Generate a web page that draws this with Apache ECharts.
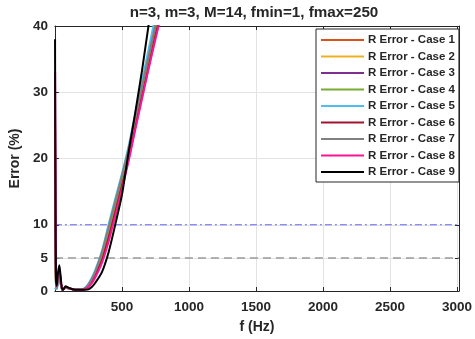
<!DOCTYPE html>
<html>
<head>
<meta charset="utf-8">
<script src="https://cdn.jsdelivr.net/npm/echarts@6/dist/echarts.min.js"></script>
<style>
  html, body { margin: 0; padding: 0; background: #fff; }
  #chart { width: 475px; height: 339px; }
</style>
</head>
<body>
<div id="chart"></div>
<script>
// Frequency samples (Hz)
const freq = [1, 4, 8, 14, 22, 33, 44, 55, 66, 80, 100, 125, 150, 175,
              200, 225, 250, 275, 300, 350, 400, 450, 500, 550, 600, 650, 700, 750, 800, 850];

// Resistance error (%) for each case
const case1 = [24, 8, 1.2, 0.5, 1.8, 2.7, 1.2, 0.2, 0.3, 0.6, 0.4, 0.3, 0.2, 0.2,
               0.2, 0.4, 0.9, 1.6, 2.6, 5.1, 8.7, 12.6, 16.5, 20.6, 25.1, 29.7, 34.1, 38.5, 42.9, 47.3];
const case2 = [22, 7, 1.1, 0.5, 1.7, 2.6, 1.1, 0.2, 0.3, 0.6, 0.4, 0.3, 0.2, 0.2,
               0.2, 0.4, 0.9, 1.6, 2.7, 5.2, 8.8, 12.7, 16.6, 20.7, 25.2, 29.8, 34.2, 38.7, 43.1, 47.5];
const case3 = [26, 9, 1.3, 0.5, 2.0, 2.9, 1.3, 0.2, 0.3, 0.6, 0.4, 0.3, 0.2, 0.2,
               0.2, 0.4, 0.9, 1.7, 2.8, 5.4, 9.2, 13.1, 17.0, 21.1, 25.8, 30.5, 35.2, 39.9, 44.5, 49.0];
const case4 = [21, 7, 1.0, 0.4, 1.6, 2.5, 1.1, 0.2, 0.3, 0.5, 0.4, 0.3, 0.2, 0.2,
               0.2, 0.4, 0.9, 1.6, 2.7, 5.2, 8.9, 12.8, 16.7, 20.8, 25.4, 30.0, 34.4, 38.8, 43.2, 47.6];
const case5 = [0.5, 0.4, 0.3, 0.3, 1.2, 2.0, 0.9, 0.2, 0.3, 0.5, 0.4, 0.3, 0.2, 0.2,
               0.2, 0.5, 1.1, 2.0, 3.1, 6.0, 10.0, 13.9, 17.7, 21.9, 26.8, 31.7, 36.6, 41.5, 46.5, 51.5];
const case6 = [33, 11, 1.6, 0.6, 2.1, 3.1, 1.4, 0.2, 0.3, 0.6, 0.4, 0.3, 0.2, 0.2,
               0.2, 0.3, 0.7, 1.4, 2.3, 4.6, 8.0, 11.9, 15.9, 20.0, 24.7, 29.4, 33.9, 38.5, 42.6, 46.8];
const case7 = [18, 6, 0.9, 0.4, 1.5, 2.3, 1.0, 0.2, 0.3, 0.5, 0.4, 0.3, 0.2, 0.2,
               0.2, 0.4, 1.0, 1.8, 2.9, 5.8, 9.6, 13.5, 17.4, 21.5, 26.2, 30.9, 35.6, 40.2, 44.8, 49.5];
const case8 = [33, 12, 1.8, 0.7, 2.3, 3.4, 1.6, 0.2, 0.3, 0.6, 0.5, 0.3, 0.2, 0.2,
               0.2, 0.3, 0.6, 1.2, 2.0, 4.2, 7.4, 11.3, 15.4, 19.6, 24.4, 29.0, 33.6, 38.0, 42.2, 46.4];
const case9 = [38, 14, 2.0, 0.8, 2.6, 3.9, 1.9, 0.2, 0.3, 0.7, 0.5, 0.3, 0.2, 0.2,
               0.2, 0.2, 0.25, 0.6, 1.2, 2.8, 5.8, 10.0, 14.5, 21.0, 27.0, 33.3, 40.3, 47, 53, 59];

const caseNames = ['R Error - Case 1', 'R Error - Case 2', 'R Error - Case 3',
                   'R Error - Case 4', 'R Error - Case 5', 'R Error - Case 6',
                   'R Error - Case 7', 'R Error - Case 8', 'R Error - Case 9'];
const caseColors = ['#D95319', '#EDB120', '#7E2F8E', '#77AC30', '#4DBEEE',
                    '#A2142F', '#808080', '#FF1493', '#000000'];

// Axis ranges and ticks
const xRange = [0, 3015];
const yRange = [0, 40];
const xTicks = [500, 1000, 1500, 2000, 2500, 3000];
const yTicks = [0, 5, 10, 20, 30, 40];

// Threshold lines (%)
const limitHigh = 10;
const limitLow = 5;

const titleText = 'n=3, m=3, M=14, fmin=1, fmax=250';

const ink = '#262626';
const font = 'Liberation Sans, Arial, Helvetica, sans-serif';

const allCases = [case1, case2, case3, case4, case5, case6, case7, case8, case9];

const chart = echarts.init(document.getElementById('chart'), null, { renderer: 'canvas' });

const lineSeries = allCases.map((vals, i) => ({
  name: caseNames[i],
  type: 'line',
  data: freq.map((f, k) => [f, vals[k]]),
  showSymbol: false,
  symbol: 'none',
  smooth: 0.25,
  clip: true,
  z: 3,
  lineStyle: { color: caseColors[i], width: 2 },
  itemStyle: { color: caseColors[i] },
  emphasis: { disabled: true },
  animation: false
}));

// Horizontal threshold line spanning the full x range, drawn beneath the curves
function thresholdSeries(name, level, color, width, dash) {
  return {
    name: name,
    type: 'line',
    data: xRange.map(f => [f, level]),
    showSymbol: false,
    symbol: 'none',
    silent: true,
    z: 2,
    animation: false,
    lineStyle: { color: color, width: width, type: dash },
    itemStyle: { color: color },
    emphasis: { disabled: true }
  };
}

const guides = [
  thresholdSeries('limit-high', limitHigh, '#6666f0', 1.2, [7, 3, 2, 3]),
  thresholdSeries('limit-low', limitLow, '#9a9a9a', 1.5, [8, 5])
];

const axisText = {
  color: ink, fontFamily: font, fontWeight: 'bold', fontSize: 13.5,
  formatter: v => String(v)
};

const option = {
  animation: false,
  backgroundColor: '#ffffff',
  title: {
    text: titleText,
    left: 254,
    top: 5,
    textAlign: 'center',
    padding: 0,
    textStyle: { color: ink, fontFamily: font, fontWeight: 'bold', fontSize: 15.2 }
  },
  legend: {
    data: caseNames,
    orient: 'vertical',
    left: 316,
    top: 29,
    padding: [4, 4, 3, 5],
    itemGap: 2.5,
    itemWidth: 43,
    itemHeight: 2,
    backgroundColor: '#ffffff',
    borderColor: ink,
    borderWidth: 1,
    borderRadius: 0,
    selectedMode: false,
    icon: 'rect',
    itemStyle: { borderWidth: 0 },
    textStyle: { color: ink, fontFamily: font, fontWeight: 'bold', fontSize: 11.5, lineHeight: 14, padding: [0, 0, 0, -1] }
  },
  grid: { left: 47, right: 13, top: 26, bottom: 47, containLabel: false },
  xAxis: [
    {
      type: 'value',
      min: xRange[0],
      max: xRange[1],
      interval: 500,
      name: 'f (Hz)',
      nameLocation: 'middle',
      nameGap: 29,
      nameTextStyle: { color: ink, fontFamily: font, fontWeight: 'bold', fontSize: 14 },
      axisLine: { show: true, onZero: false, lineStyle: { color: ink, width: 1 } },
      axisTick: { show: true, inside: true, length: 4, customValues: xTicks, lineStyle: { color: ink } },
      axisLabel: Object.assign({ margin: 9, customValues: xTicks }, axisText),
      splitLine: { show: true, lineStyle: { color: '#e3e3e3', width: 1 } }
    },
    {
      type: 'value',
      position: 'top',
      min: xRange[0],
      max: xRange[1],
      interval: 500,
      axisLine: { show: true, onZero: false, lineStyle: { color: ink, width: 1 } },
      axisTick: { show: true, inside: true, length: 4, customValues: xTicks, lineStyle: { color: ink } },
      axisLabel: { show: false },
      splitLine: { show: false }
    }
  ],
  yAxis: [
    {
      type: 'value',
      min: yRange[0],
      max: yRange[1],
      interval: 10,
      name: 'Error (%)',
      nameLocation: 'middle',
      nameGap: 27,
      nameTextStyle: { color: ink, fontFamily: font, fontWeight: 'bold', fontSize: 14 },
      axisLine: { show: true, onZero: false, lineStyle: { color: ink, width: 1 } },
      axisTick: { show: true, inside: true, length: 4, customValues: yTicks, lineStyle: { color: ink } },
      axisLabel: Object.assign({ margin: 7, customValues: yTicks }, axisText),
      splitLine: { show: true, lineStyle: { color: '#e3e3e3', width: 1 } }
    },
    {
      type: 'value',
      position: 'right',
      min: yRange[0],
      max: yRange[1],
      interval: 10,
      axisLine: { show: true, onZero: false, lineStyle: { color: ink, width: 1 } },
      axisTick: { show: true, inside: true, length: 4, customValues: yTicks, lineStyle: { color: ink } },
      axisLabel: { show: false },
      splitLine: { show: false }
    }
  ],
  series: guides.concat(lineSeries)
};

chart.setOption(option);
</script>
</body>
</html>
